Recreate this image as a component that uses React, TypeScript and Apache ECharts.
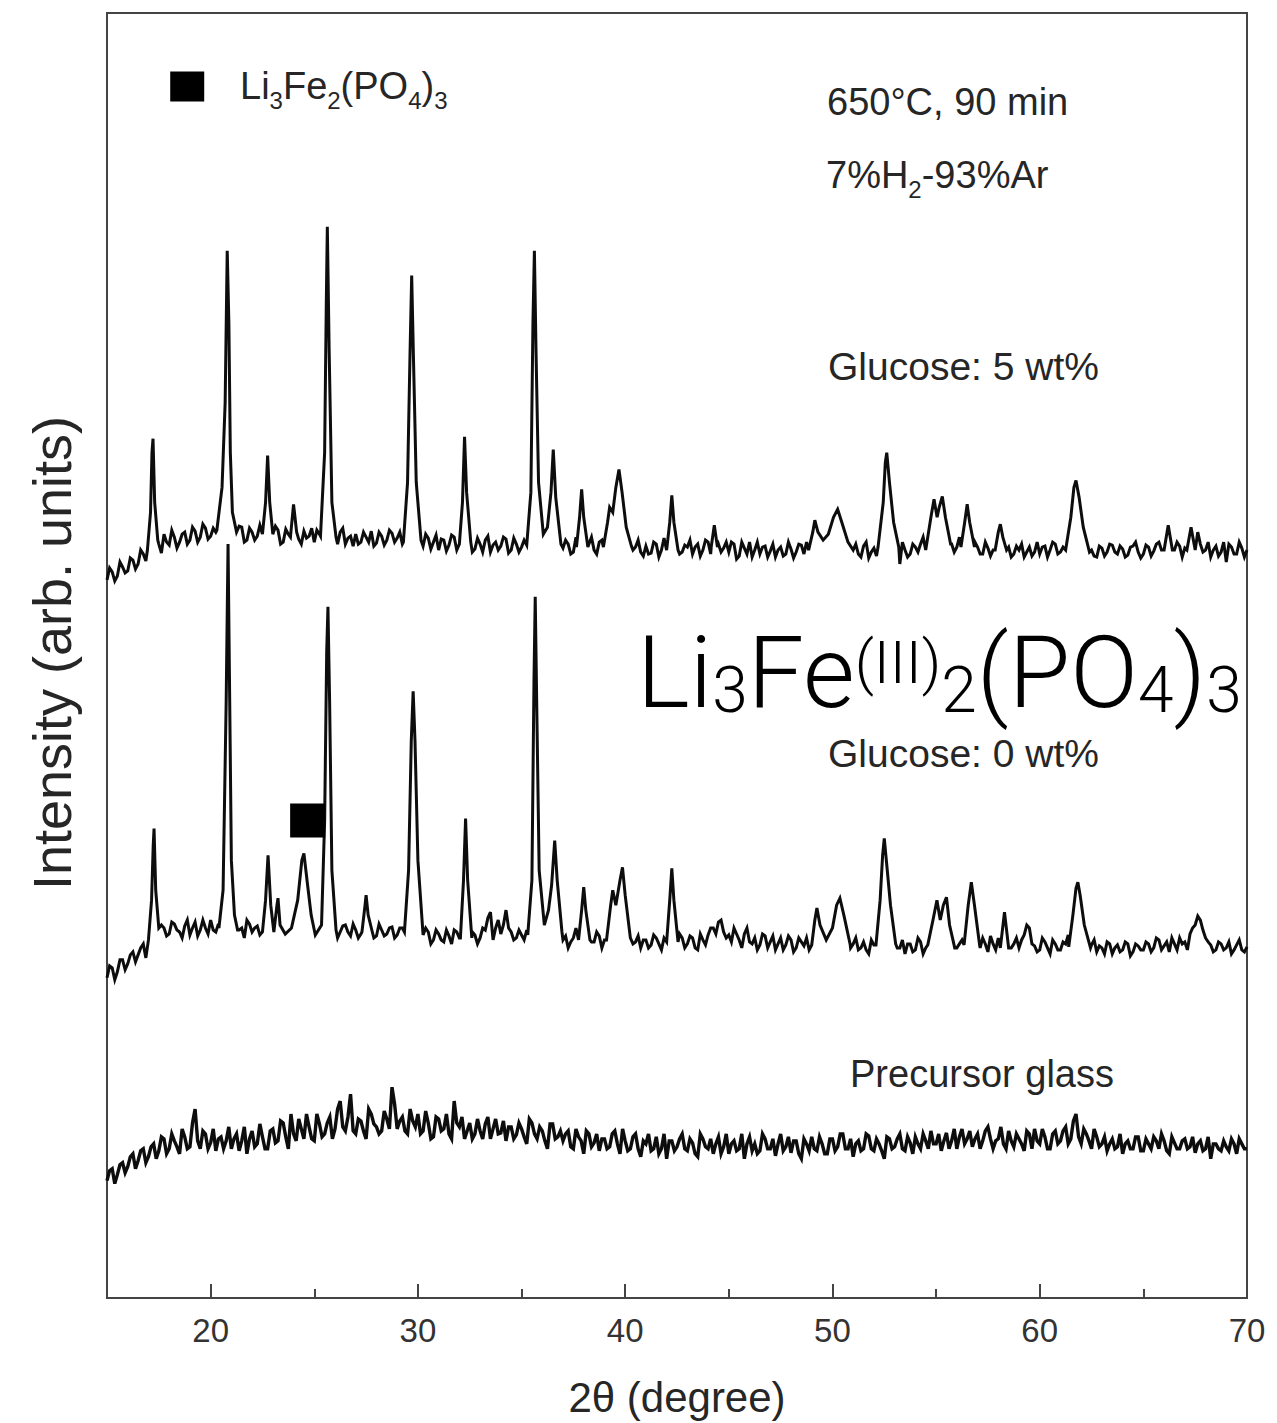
import React, { useEffect, useRef } from "react";
import * as echarts from "echarts";

// ---- axis ----
const X_MIN = 15;
const X_MAX = 70;
const majorTicks = [20, 30, 40, 50, 60, 70];
const minorTicks = [25, 35, 45, 55, 65];

// baseline readings: "base" arrays sampled at 15 + 0.25*i, "mid" arrays at 15.125 + 0.25*i
const SAMPLE_START = 15;
const SAMPLE_STEP = 0.25;

const base5wt = [
  722, 730, 726, 735, 731, 742, 738, 748,
  750, 752, 758, 768, 757, 765, 760, 770,
  762, 771, 765, 774, 766, 770, 775, 778,
  772, 768, 775, 762, 770, 766, 773, 768,
  764, 772, 760, 768, 770, 763, 771, 766,
  760, 768, 770, 765, 762, 770, 758, 766,
  768, 760, 765, 771, 759, 766, 762, 769,
  764, 758, 765, 770, 762, 756, 764, 760,
  752, 762, 757, 765, 758, 761, 760, 753,
  758, 762, 750, 760, 756, 763, 752, 758,
  755, 760, 765, 770, 768, 765, 772, 760,
  754, 758, 750, 760, 763, 758, 752, 760,
  757, 762, 770, 780, 775, 760, 755, 750,
  756, 749, 758, 752, 760, 765, 757, 750,
  755, 748, 758, 752, 760, 765, 758, 754,
  750, 758, 746, 754, 760, 752, 748, 756,
  751, 745, 755, 748, 753, 750, 757, 760,
  765, 775, 770, 764, 776, 788, 775, 760,
  752, 748, 756, 744, 754, 760, 780, 790,
  762, 738, 752, 748, 755, 758, 760, 780,
  790, 795, 775, 758, 755, 760, 780, 770,
  755, 748, 754, 752, 760, 770, 755, 748,
  752, 745, 755, 750, 748, 756, 752, 758,
  750, 760, 790, 815, 790, 760, 752, 745,
  754, 750, 757, 748, 753, 747, 756, 750,
  748, 755, 751, 760, 765, 758, 752, 756,
  754, 760, 766, 758, 752, 745, 756, 750,
  740, 755, 748, 754, 752,
];
const mid5wt = [
  734, 721, 740, 729, 744, 733, 752, 741,
  745, 770, 749, 760, 772, 754, 768, 758,
  775, 760, 778, 763, 774, 780, 762, 771,
  764, 776, 760, 774, 762, 777, 765, 772,
  776, 758, 773, 762, 775, 758, 764, 774,
  772, 757, 763, 772, 758, 774, 764, 756,
  758, 770, 760, 756, 770, 757, 772, 760,
  770, 766, 757, 763, 754, 768, 753, 767,
  763, 751, 767, 752, 765, 754, 750, 764,
  750, 766, 757, 752, 765, 749, 764, 750,
  762, 752, 770, 760, 775, 762, 765, 751,
  762, 748, 765, 752, 754, 765, 748, 762,
  750, 768, 775, 790, 765, 752, 762, 746,
  748, 760, 745, 764, 750, 770, 748, 757,
  762, 755, 746, 762, 748, 770, 750, 760,
  760, 743, 760, 748, 745, 760, 755, 745,
  758, 752, 746, 760, 744, 758, 748, 755,
  780, 765, 772, 770, 780, 790, 765, 754,
  758, 745, 760, 750, 746, 765, 795, 770,
  750, 760, 745, 758, 750, 765, 772, 790,
  795, 780, 765, 750, 765, 790, 765, 760,
  748, 760, 746, 758, 765, 762, 745, 756,
  758, 750, 746, 760, 755, 745, 760, 748,
  755, 770, 805, 820, 775, 755, 746, 756,
  746, 758, 750, 756, 745, 755, 760, 744,
  757, 746, 758, 752, 770, 752, 760, 745,
  762, 752, 770, 750, 760, 752, 746, 760,
  758, 748, 760, 745,
];

const peaks5wt = [
  [[16.95, 752], [17.1, 790], [17.17, 850], [17.22, 864], [17.3, 800], [17.45, 762]],
  [[20.3, 772], [20.55, 815], [20.7, 900], [20.8, 1053], [20.88, 980], [20.95, 850], [21.05, 790], [21.25, 770]],
  [[22.5, 768], [22.65, 800], [22.75, 847], [22.85, 800], [23.0, 768]],
  [[23.85, 765], [24.0, 798], [24.15, 770]],
  [[25.3, 766], [25.5, 850], [25.58, 1000], [25.63, 1077], [25.72, 950], [25.85, 800], [26.05, 765]],
  [[29.3, 760], [29.5, 820], [29.62, 950], [29.7, 1028], [29.78, 950], [29.92, 820], [30.15, 762]],
  [[32.0, 758], [32.15, 800], [32.25, 866], [32.35, 810], [32.55, 760]],
  [[35.25, 757], [35.45, 810], [35.55, 980], [35.62, 1053], [35.7, 950], [35.82, 820], [36.05, 768], [36.25, 775], [36.42, 810], [36.53, 853], [36.65, 805], [36.9, 758]],
  [[37.65, 755], [37.8, 785], [37.9, 813], [38.0, 785], [38.2, 755]],
  [[38.95, 755], [39.15, 780], [39.25, 795], [39.4, 790], [39.55, 815], [39.7, 833], [39.85, 810], [40.05, 775], [40.3, 756]],
  [[42.0, 752], [42.15, 780], [42.25, 807], [42.35, 780], [42.55, 752]],
  [[44.15, 755], [44.3, 777], [44.45, 755]],
  [[48.85, 752], [49.05, 770], [49.15, 782], [49.3, 770], [49.55, 762], [49.8, 768], [50.05, 785], [50.25, 793], [50.45, 780], [50.75, 760], [51.0, 752]],
  [[52.2, 755], [52.45, 800], [52.55, 840], [52.62, 850], [52.75, 820], [52.95, 780], [53.2, 755]],
  [[54.5, 752], [54.75, 785], [54.9, 803], [55.05, 785], [55.15, 795], [55.3, 806], [55.45, 785], [55.7, 758]],
  [[56.2, 755], [56.38, 780], [56.5, 798], [56.62, 780], [56.85, 755]],
  [[57.85, 752], [58.0, 770], [58.1, 778], [58.22, 765], [58.4, 752]],
  [[61.25, 752], [61.5, 785], [61.65, 815], [61.75, 822], [61.9, 805], [62.1, 775], [62.4, 750]],
  [[66.0, 752], [66.2, 777], [66.4, 752]],
  [[67.1, 752], [67.3, 775], [67.5, 752]],
];

const base0wt = [
  322, 332, 328, 340, 336, 348, 345, 356,
  360, 365, 362, 372, 366, 376, 368, 374,
  365, 378, 370, 372, 380, 368, 375, 380,
  375, 366, 372, 380, 368, 374, 370, 378,
  368, 376, 364, 372, 380, 375, 370, 362,
  362, 370, 374, 366, 372, 368, 375, 364,
  370, 366, 378, 372, 364, 370, 366, 373,
  365, 372, 368, 376, 370, 362, 368, 360,
  366, 358, 364, 370, 362, 368, 360, 365,
  362, 370, 388, 372, 366, 390, 368, 362,
  365, 370, 375, 368, 380, 375, 390, 365,
  360, 352, 362, 368, 376, 365, 358, 364,
  360, 368, 395, 420, 410, 365, 358, 352,
  360, 355, 362, 350, 364, 368, 358, 362,
  356, 362, 350, 360, 365, 372, 378, 368,
  365, 372, 360, 366, 358, 362, 355, 364,
  358, 350, 362, 355, 360, 352, 358, 362,
  360, 385, 370, 362, 368, 390, 380, 362,
  356, 350, 358, 346, 355, 362, 400, 420,
  360, 352, 346, 356, 350, 358, 352, 370,
  395, 385, 398, 365, 352, 360, 400, 395,
  358, 362, 348, 356, 362, 370, 375, 356,
  352, 365, 372, 354, 350, 358, 346, 356,
  350, 356, 380, 410, 400, 360, 355, 348,
  352, 358, 346, 355, 350, 356, 348, 354,
  350, 356, 352, 360, 354, 348, 356, 362,
  358, 366, 375, 380, 362, 355, 350, 356,
  352, 346, 355, 350, 353,
];
const mid0wt = [
  334, 320, 340, 330, 345, 338, 352, 342,
  362, 368, 375, 364, 378, 370, 362, 380,
  372, 364, 380, 366, 370, 376, 365, 372,
  380, 370, 362, 376, 372, 365, 380, 366,
  372, 362, 376, 368, 372, 366, 376, 368,
  370, 376, 364, 378, 362, 374, 368, 376,
  362, 375, 366, 362, 376, 364, 372, 362,
  372, 362, 374, 364, 360, 372, 356, 370,
  360, 370, 356, 368, 372, 360, 368, 356,
  372, 382, 360, 380, 375, 372, 360, 370,
  360, 376, 362, 372, 368, 382, 372, 356,
  364, 358, 372, 360, 366, 358, 368, 352,
  372, 380, 398, 428, 380, 356, 364, 360,
  352, 365, 356, 362, 352, 360, 366, 352,
  364, 352, 366, 355, 372, 366, 380, 362,
  358, 366, 352, 372, 356, 350, 366, 352,
  364, 356, 350, 364, 348, 362, 354, 350,
  375, 380, 362, 372, 385, 398, 370, 352,
  362, 352, 350, 360, 348, 380, 445, 410,
  352, 360, 356, 348, 362, 346, 364, 385,
  385, 398, 375, 360, 356, 380, 410, 380,
  352, 356, 364, 350, 375, 380, 352, 362,
  360, 375, 356, 348, 362, 352, 360, 350,
  358, 365, 400, 415, 380, 350, 360, 354,
  346, 356, 352, 348, 358, 344, 356, 350,
  358, 348, 362, 350, 358, 362, 350, 356,
  350, 372, 384, 370, 358, 348, 358, 350,
  358, 350, 360, 348,
];

const peaks0wt = [
  [[17.0, 360], [17.15, 400], [17.23, 455], [17.27, 472], [17.35, 410], [17.5, 372]],
  [[20.4, 372], [20.6, 410], [20.75, 600], [20.84, 758], [20.92, 600], [21.0, 440], [21.15, 385], [21.3, 370]],
  [[22.5, 368], [22.65, 400], [22.77, 445], [22.9, 395], [23.05, 368], [23.2, 395], [23.25, 402], [23.35, 375], [23.6, 366], [23.9, 372], [24.2, 400], [24.4, 440], [24.5, 447], [24.65, 420], [24.85, 385], [25.05, 365], [25.35, 375], [25.5, 480], [25.6, 650], [25.66, 695], [25.74, 600], [25.85, 430], [26.05, 370]],
  [[27.3, 368], [27.45, 395], [27.5, 405], [27.6, 385], [27.8, 368]],
  [[29.35, 368], [29.55, 430], [29.68, 560], [29.77, 610], [29.86, 560], [30.0, 440], [30.25, 365]],
  [[32.05, 362], [32.2, 420], [32.3, 482], [32.4, 420], [32.6, 362]],
  [[35.3, 365], [35.5, 420], [35.6, 620], [35.66, 705], [35.73, 600], [35.85, 430], [36.1, 375], [36.3, 390], [36.45, 415], [36.6, 460], [36.72, 420], [36.95, 368]],
  [[37.75, 360], [37.9, 390], [38.0, 413], [38.1, 390], [38.3, 360]],
  [[39.1, 360], [39.3, 395], [39.4, 410], [39.55, 395], [39.75, 420], [39.87, 433], [40.0, 405], [40.25, 362]],
  [[42.0, 358], [42.15, 400], [42.25, 432], [42.35, 400], [42.55, 358]],
  [[49.0, 355], [49.15, 380], [49.25, 392], [49.4, 375], [49.7, 360], [50.0, 372], [50.2, 395], [50.36, 402], [50.55, 385], [50.85, 356]],
  [[52.1, 355], [52.3, 400], [52.42, 445], [52.5, 462], [52.6, 440], [52.8, 395], [53.05, 356]],
  [[54.6, 355], [54.85, 380], [55.04, 400], [55.2, 380], [55.35, 395], [55.5, 403], [55.65, 375], [55.9, 352]],
  [[56.35, 355], [56.55, 395], [56.7, 418], [56.85, 395], [57.1, 355]],
  [[58.1, 352], [58.3, 388], [58.5, 352]],
  [[61.4, 353], [61.6, 385], [61.75, 412], [61.84, 418], [61.95, 405], [62.15, 375], [62.45, 352]],
];

const baseGlass = [
  118, 130, 124, 136, 132, 145, 138, 150,
  142, 155, 148, 160, 150, 158, 145, 162,
  152, 190, 150, 165, 156, 148, 162, 158,
  150, 165, 158, 145, 168, 155, 162, 150,
  170, 158, 176, 150, 165, 180, 160, 172,
  158, 175, 165, 182, 170, 198, 168, 205,
  165, 178, 160, 185, 172, 168, 180, 212,
  170, 182, 165, 178, 185, 168, 176, 162,
  180, 170, 165, 198, 172, 160, 176, 165,
  168, 175, 160, 180, 166, 158, 172, 164,
  170, 155, 176, 160, 168, 150, 175, 162,
  158, 168, 150, 162, 145, 165, 156, 148,
  160, 152, 168, 145, 158, 150, 165, 142,
  155, 148, 162, 150, 140, 158, 152, 165,
  148, 156, 142, 160, 150, 145, 162, 152,
  145, 158, 150, 140, 162, 155, 148, 160,
  150, 143, 165, 152, 146, 158, 140, 155,
  162, 148, 155, 145, 160, 152, 165, 150,
  142, 158, 150, 163, 148, 155, 140, 160,
  152, 165, 148, 156, 162, 150, 158, 168,
  155, 148, 166, 158, 150, 170, 160, 152,
  165, 158, 172, 150, 160, 155, 168, 152,
  160, 148, 165, 170, 155, 162, 150, 168,
  158, 172, 160, 185, 155, 165, 150, 162,
  155, 148, 160, 152, 145, 158, 150, 162,
  148, 155, 162, 150, 158, 145, 156, 150,
  160, 152, 146, 158, 150, 140, 155, 148,
  152, 160, 145, 155, 150,
];
const midGlass = [
  128, 115, 134, 126, 142, 130, 148, 136,
  152, 140, 162, 145, 165, 152, 170, 150,
  176, 158, 168, 150, 170, 160, 150, 172,
  160, 148, 172, 160, 152, 175, 150, 168,
  156, 178, 162, 185, 158, 170, 185, 160,
  185, 162, 176, 160, 190, 172, 182, 168,
  180, 168, 190, 175, 165, 188, 170, 195,
  178, 168, 190, 172, 165, 188, 160, 182,
  168, 185, 160, 176, 182, 168, 160, 180,
  160, 182, 170, 165, 178, 172, 160, 176,
  162, 180, 165, 172, 158, 175, 160, 168,
  165, 152, 170, 158, 168, 152, 165, 160,
  150, 165, 155, 170, 148, 162, 150, 158,
  165, 150, 145, 165, 158, 148, 160, 150,
  160, 145, 165, 152, 160, 155, 145, 165,
  155, 148, 165, 155, 148, 145, 165, 150,
  160, 155, 148, 162, 158, 145, 160, 148,
  150, 162, 145, 160, 148, 165, 150, 160,
  155, 148, 165, 150, 160, 148, 162, 150,
  160, 150, 162, 145, 155, 165, 150, 155,
  165, 158, 150, 170, 162, 155, 168, 160,
  150, 168, 160, 158, 172, 150, 158, 165,
  155, 168, 150, 158, 170, 150, 165, 155,
  168, 155, 178, 162, 170, 158, 170, 152,
  162, 155, 150, 165, 155, 150, 162, 148,
  160, 150, 158, 165, 148, 162, 150, 158,
  150, 162, 155, 148, 162, 155, 150, 158,
  148, 155, 160, 150,
];
const peaksGlass: number[][][] = [];

// markers
const legendMarker = [[18.87, 1218]];
const phaseMarker = [[24.68, 480]];

function buildTrace(base: number[], mid: number[], peaks: number[][][]) {
  const pts: number[][] = [];
  const inPeak = (x: number) => peaks.some((p) => x >= p[0][0] && x <= p[p.length - 1][0]);
  base.forEach((v, i) => {
    const x = SAMPLE_START + i * SAMPLE_STEP;
    if (!inPeak(x)) pts.push([x, v]);
  });
  mid.forEach((v, i) => {
    const x = SAMPLE_START + SAMPLE_STEP / 2 + i * SAMPLE_STEP;
    if (!inPeak(x)) pts.push([x, v]);
  });
  peaks.forEach((p) => p.forEach((q) => pts.push(q)));
  pts.sort((a, b) => a[0] - b[0]);
  return pts;
}

const FONT = "'Liberation Sans', Arial, Helvetica, sans-serif";
const THIN = "Roboto, 'Open Sans', sans-serif";
const TXT = "#262626";

export default function App() {
  const ref = useRef<HTMLDivElement>(null);
  useEffect(() => {
    if (!ref.current) return;
    const chart = echarts.init(ref.current, undefined, { renderer: "svg" });
    const lineSeries = (name: string, data: number[][], width: number) => ({
      name,
      type: "line",
      data,
      symbol: "none",
      smooth: false,
      clip: true,
      lineStyle: { color: "#0d0d0d", width, join: "miter" },
      z: 3,
    });
    const plain = (text: string, x: number, y: number, size = 40) => ({
      type: "text",
      x,
      y,
      style: { text, fontFamily: FONT, fontSize: size, fill: TXT, verticalAlign: "middle", align: "left" },
      z: 10,
    });
    chart.setOption({
      animation: false,
      backgroundColor: "#fff",
      grid: { left: 107, right: 30, top: 13, bottom: 118, show: true, borderColor: "#444", borderWidth: 2, backgroundColor: "transparent" },
      xAxis: [
        {
          type: "value",
          min: X_MIN,
          max: X_MAX,
          position: "bottom",
          name: "2θ (degree)",
          nameLocation: "middle",
          nameGap: 78,
          nameTextStyle: { fontFamily: FONT, fontSize: 42, color: TXT },
          axisLine: { show: true, lineStyle: { color: "#444", width: 2 } },
          axisTick: { show: true, inside: true, length: 14, customValues: majorTicks, lineStyle: { color: "#444", width: 2 } },
          axisLabel: { show: true, customValues: majorTicks, fontFamily: FONT, fontSize: 33, color: "#333", margin: 16 },
          splitLine: { show: false },
        },
        {
          type: "value",
          min: X_MIN,
          max: X_MAX,
          position: "bottom",
          axisLine: { show: false },
          axisTick: { show: true, inside: true, length: 9, customValues: minorTicks, lineStyle: { color: "#444", width: 2 } },
          axisLabel: { show: false },
          splitLine: { show: false },
        },
      ],
      yAxis: {
        type: "value",
        min: 0,
        max: 1292,
        axisLine: { show: true, lineStyle: { color: "#444", width: 2 } },
        axisTick: { show: false },
        axisLabel: { show: false },
        splitLine: { show: false },
      },
      series: [
        lineSeries("Glucose: 5 wt%", buildTrace(base5wt, mid5wt, peaks5wt), 3),
        lineSeries("Glucose: 0 wt%", buildTrace(base0wt, mid0wt, peaks0wt), 3),
        lineSeries("Precursor glass", buildTrace(baseGlass, midGlass, peaksGlass), 3.4),
        {
          type: "scatter",
          data: legendMarker,
          symbol: "rect",
          symbolSize: [34, 30],
          itemStyle: { color: "#000", opacity: 1 },
          z: 4,
        },
        {
          type: "scatter",
          data: phaseMarker,
          symbol: "rect",
          symbolSize: [35, 34],
          itemStyle: { color: "#000", opacity: 1 },
          z: 4,
        },
      ],
      graphic: [
        {
          type: "text",
          x: 52,
          y: 653,
          rotation: Math.PI / 2,
          style: { text: "Intensity (arb. units)", fontFamily: FONT, fontSize: 54, fill: TXT, align: "center", verticalAlign: "middle" },
          z: 10,
        },
        {
          type: "text",
          x: 240,
          y: 112,
          style: {
            text: "{m|Li}{s|3}{m|Fe}{s|2}{m|(PO}{s|4}{m|)}{s|3}",
            align: "left",
            verticalAlign: "bottom",
            rich: {
              m: { fontFamily: FONT, fontSize: 38, fill: TXT, verticalAlign: "bottom", padding: [0, 0, 7, 0] },
              s: { fontFamily: FONT, fontSize: 24, fill: TXT, verticalAlign: "bottom" },
            },
          },
          z: 10,
        },
        plain("650°C, 90 min", 827, 102, 38),
        {
          type: "text",
          x: 826,
          y: 201,
          style: {
            text: "{m|7%H}{s|2}{m|-93%Ar}",
            align: "left",
            verticalAlign: "bottom",
            rich: {
              m: { fontFamily: FONT, fontSize: 38, fill: TXT, verticalAlign: "bottom", padding: [0, 0, 7, 0] },
              s: { fontFamily: FONT, fontSize: 24, fill: TXT, verticalAlign: "bottom" },
            },
          },
          z: 10,
        },
        plain("Glucose: 5 wt%", 828, 366, 39),
        plain("Glucose: 0 wt%", 828, 753, 39),
        plain("Precursor glass", 850, 1074, 38),
        {
          type: "text",
          x: 637,
          y: 722,
          style: {
            text: "{m|Li}{b|3}{m|Fe}{p|(III)}{b|2}{m|(PO}{b|4}{m|)}{b|3}",
            align: "left",
            verticalAlign: "bottom",
            rich: {
              m: { fontFamily: THIN, fontWeight: 300, fontSize: 100, lineHeight: 120, fill: "#000", verticalAlign: "bottom" },
              b: { fontFamily: THIN, fontWeight: 300, fontSize: 64, fill: "#000", verticalAlign: "bottom" },
              p: { fontFamily: THIN, fontWeight: 300, fontSize: 60, fill: "#000", verticalAlign: "middle" },
            },
          },
          z: 12,
        },
      ],
    });
    return () => chart.dispose();
  }, []);
  return <div ref={ref} style={{ position: "fixed", left: 0, top: 0, width: 1277, height: 1423, background: "#fff" }} />;
}
